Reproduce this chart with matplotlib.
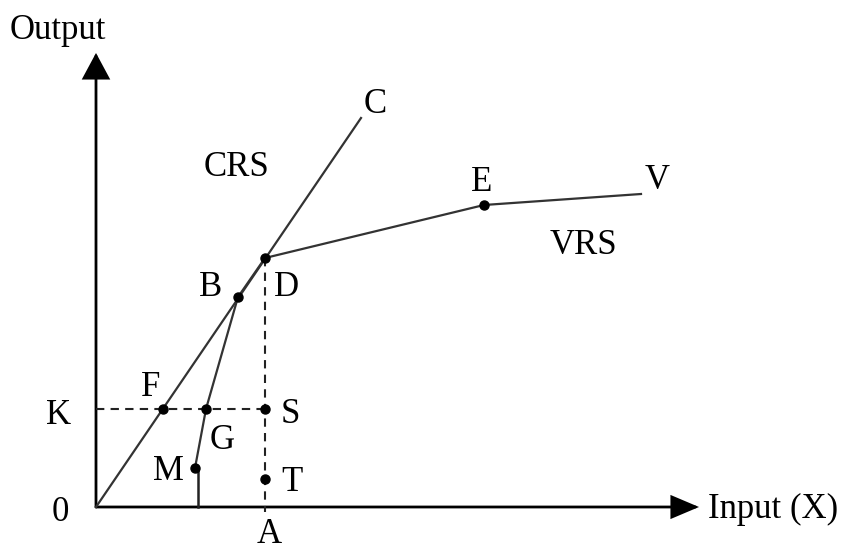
import matplotlib
matplotlib.use("Agg")
import matplotlib.pyplot as plt
from matplotlib.patches import FancyArrowPatch

plt.rcParams['font.family'] = ['Liberation Serif', 'DejaVu Serif']

# ---- data (input X, output) ----
origin = (0.0, 0.0)
crs_end = (26.5, 38.9)            # end of CRS ray (C)
frontier_x = [9.9, 11.0, 14.2, 16.9, 38.8, 54.5]   # M, G, B, D, E, V
frontier_y = [3.9, 9.8, 21.0, 24.9, 30.2, 31.3]
dot_names = ['B', 'D', 'E', 'F', 'G', 'S', 'M', 'T']
dot_x = [14.2, 16.9, 38.8, 6.7, 11.0, 16.9, 9.9, 16.9]
dot_y = [21.0, 24.9, 30.2, 9.8, 9.8, 9.8, 3.9, 2.8]
K_level = 9.8
A_input = 16.9
D_output = 24.9
M_point = (9.9, 3.9)

labels = ['Output', 'Input (X)', 'C', 'V', 'E', 'VRS', 'CRS', 'B', 'D',
          'F', 'K', 'S', 'G', 'M', 'T', '0', 'A']
label_x = [-3.8, 67.7, 27.9, 56.1, 38.6, 48.7, 14.1, 11.5, 19.1,
           5.5, -3.7, 19.4, 12.6, 7.2, 19.6, -3.6, 17.3]
label_y = [46.8, -1.1, 39.4, 31.8, 31.6, 25.3, 33.1, 21.1, 21.1,
           11.1, 8.3, 8.4, 5.8, 2.7, 1.6, -1.4, -3.6]

fig = plt.figure(figsize=(8.45, 5.52), dpi=100)
ax = fig.add_axes([0, 0, 1, 1])
ax.set_xlim(-9.6, 74.9)
ax.set_ylim(-4.5, 50.7)
ax.axis('off')

# axes with arrows
for end, hl, hw in [((0, 45.4), 16, 8.6), ((60.3, 0), 17, 7.2)]:
    arr = FancyArrowPatch(origin, end,
                          arrowstyle=f'-|>,head_length={hl},head_width={hw}',
                          mutation_scale=1, color='black', lw=2.0,
                          shrinkA=0, shrinkB=0, joinstyle='miter')
    ax.add_patch(arr)

lc = '#333333'
# CRS ray
ax.plot([origin[0], crs_end[0]], [origin[1], crs_end[1]], color=lc, lw=1.6)
# VRS frontier
ax.plot(frontier_x, frontier_y, color=lc, lw=1.6)
# vertical from M to axis
ax.plot([M_point[0] + 0.3, M_point[0] + 0.3], [M_point[1], 0], color='#222222', lw=1.8)
# dashed lines
ax.plot([0, A_input], [K_level, K_level], color='#222222', lw=1.5, ls=(0, (4, 3)))
ax.plot([A_input, A_input], [D_output, -0.5], color='#222222', lw=1.5, ls=(0, (4, 3)))

ax.plot(dot_x, dot_y, 'o', color='black', ms=6.5, ls='none')

for t, x, y in zip(labels, label_x, label_y):
    ax.text(x, y, t, ha='center', va='baseline', fontsize=25, color='black')

fig.savefig('out.png', dpi=100)
